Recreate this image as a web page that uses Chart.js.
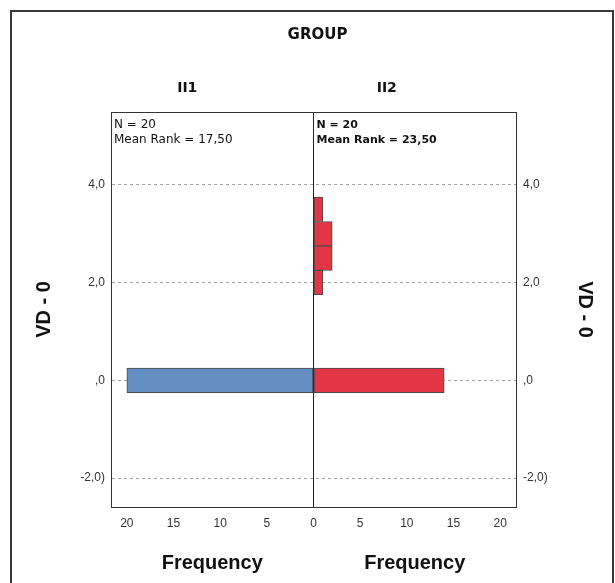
<!DOCTYPE html>
<html>
<head>
<meta charset="utf-8">
<script src="https://cdn.jsdelivr.net/npm/chart.js@4"></script>
<style>
  html, body { margin: 0; padding: 0; background: #fff; overflow: hidden; }
  #wrap { position: relative; width: 615px; height: 583px; }
  #chart { position: absolute; left: 0; top: 0; }
  #frame {
    position: absolute; left: 10px; top: 10px; width: 600px; height: 600px;
    border: 2px solid #383838; border-bottom: none; pointer-events: none;
  }
</style>
</head>
<body>
<div id="wrap">
  <canvas id="chart" width="615" height="583"></canvas>
  <div id="frame"></div>
</div>
<script>
// histogram bins (VD - 0), counts per group
const bins = [0, 2.0, 2.5, 3.0, 3.5];
const countsII1 = [20, 0, 0, 0, 0];
const countsII2 = [14, 1, 2, 2, 1];

const groupNames = ['II1', 'II2'];
const groupN = [20, 20];
const meanRanks = ['17,50', '23,50'];

const yTicks = [-2, 0, 2, 4];
const yTickLabels = ['-2,0)', ',0', '2,0', '4,0'];
const xTicks = [-20, -15, -10, -5, 0, 5, 10, 15, 20];

const tickFont = { family: 'Liberation Sans', size: 12 };
const titleFont = { family: 'Liberation Sans', size: 20, weight: 'bold' };

function toPoints(counts, sign) {
  return bins.map((b, i) => ({ x: sign * counts[i], y: b })).filter(p => p.x !== 0);
}

const panelText = {
  id: 'panelText',
  afterDraw(chart) {
    const { ctx, chartArea: a, scales } = chart;
    const x0 = scales.x.getPixelForValue(0);
    const centers = [(a.left + x0) / 2, (x0 + a.right) / 2];
    ctx.save();
    // top edge of the plot box
    ctx.strokeStyle = '#333';
    ctx.lineWidth = 1;
    ctx.beginPath();
    ctx.moveTo(a.left, a.top + 0.5);
    ctx.lineTo(a.right, a.top + 0.5);
    ctx.stroke();

    ctx.fillStyle = '#111';
    ctx.textAlign = 'center';
    ctx.textBaseline = 'middle';
    ctx.font = 'bold 14px "DejaVu Sans"';
    ctx.fillText(groupNames[0], centers[0] - 25, 88);
    ctx.fillText(groupNames[1], centers[1] - 28, 88);

    ctx.font = titleFont.weight + ' ' + titleFont.size + 'px "' + titleFont.family + '"';
    ctx.fillText('Frequency', centers[0], 563);
    ctx.fillText('Frequency', centers[1], 563);

    ctx.textAlign = 'left';
    const starts = [a.left + 3, x0 + 3];
    for (let i = 0; i < 2; i++) {
      ctx.font = i === 1 ? 'bold 11px "DejaVu Sans"' : '12px "DejaVu Sans"';
      ctx.fillText('N = ' + groupN[i], starts[i], 125);
      ctx.fillText('Mean Rank = ' + meanRanks[i], starts[i], 140);
    }
    ctx.restore();
  }
};

new Chart(document.getElementById('chart'), {
  type: 'bar',
  data: {
    datasets: [
      {
        label: groupNames[0],
        data: toPoints(countsII1, -1),
        backgroundColor: '#658fc3',
        borderColor: '#4a4a4a',
        borderWidth: 1,
        borderSkipped: false,
        grouped: false,
        categoryPercentage: 1,
        barPercentage: 1
      },
      {
        label: groupNames[1],
        data: toPoints(countsII2, 1),
        backgroundColor: '#e23646',
        borderColor: '#4a4a4a',
        borderWidth: 1,
        borderSkipped: false,
        grouped: false,
        categoryPercentage: 1,
        barPercentage: 1
      }
    ]
  },
  options: {
    indexAxis: 'y',
    responsive: false,
    animation: false,
    layout: { padding: { left: 20, right: 0, top: 0, bottom: 0 } },
    plugins: {
      legend: { display: false },
      tooltip: { enabled: false },
      title: {
        display: true,
        text: 'GROUP',
        color: '#111',
        font: { family: 'DejaVu Sans', size: 15, weight: 'bold' },
        padding: { top: 26, bottom: 68 }
      }
    },
    scales: {
      x: {
        type: 'linear',
        min: -21.7,
        max: 21.7,
        z: 1,
        afterBuildTicks: s => { s.ticks = xTicks.map(v => ({ value: v })); },
        afterFit: s => { s.height = 76; },
        ticks: {
          font: tickFont,
          color: '#333',
          padding: 9,
          maxRotation: 0,
          callback: v => String(Math.abs(v))
        },
        grid: {
          drawTicks: false,
          color: c => (c.tick && c.tick.value === 0 ? '#222' : 'rgba(0,0,0,0)'),
          lineWidth: 1
        },
        border: { display: true, color: '#333', width: 1 }
      },
      y: {
        type: 'linear',
        position: 'left',
        min: -2.59,
        max: 5.49,
        offset: false,
        afterBuildTicks: s => { s.ticks = yTicks.map(v => ({ value: v })); },
        afterFit: s => { s.width = 91; },
        ticks: {
          font: tickFont,
          color: '#333',
          padding: 6,
          callback: v => yTickLabels[yTicks.indexOf(v)]
        },
        grid: { offset: false, drawTicks: false, color: '#a0a0a0', lineWidth: 1 },
        border: { display: true, color: '#333', width: 1, dash: [3, 3] },
        title: {
          display: true,
          text: 'VD - 0',
          color: '#111',
          font: titleFont,
          padding: { top: 12, bottom: 0 }
        }
      },
      y2: {
        type: 'linear',
        position: 'right',
        min: -2.59,
        max: 5.49,
        offset: false,
        afterBuildTicks: s => { s.ticks = yTicks.map(v => ({ value: v })); },
        afterFit: s => { s.width = 99; },
        ticks: {
          font: tickFont,
          color: '#333',
          padding: 7,
          callback: v => yTickLabels[yTicks.indexOf(v)]
        },
        grid: { display: false, offset: false, drawTicks: false },
        border: { display: true, color: '#333', width: 1 },
        title: {
          display: true,
          text: 'VD - 0',
          color: '#111',
          font: titleFont,
          padding: { top: 18, bottom: 0 }
        }
      }
    }
  },
  plugins: [panelText]
});
</script>
</body>
</html>
